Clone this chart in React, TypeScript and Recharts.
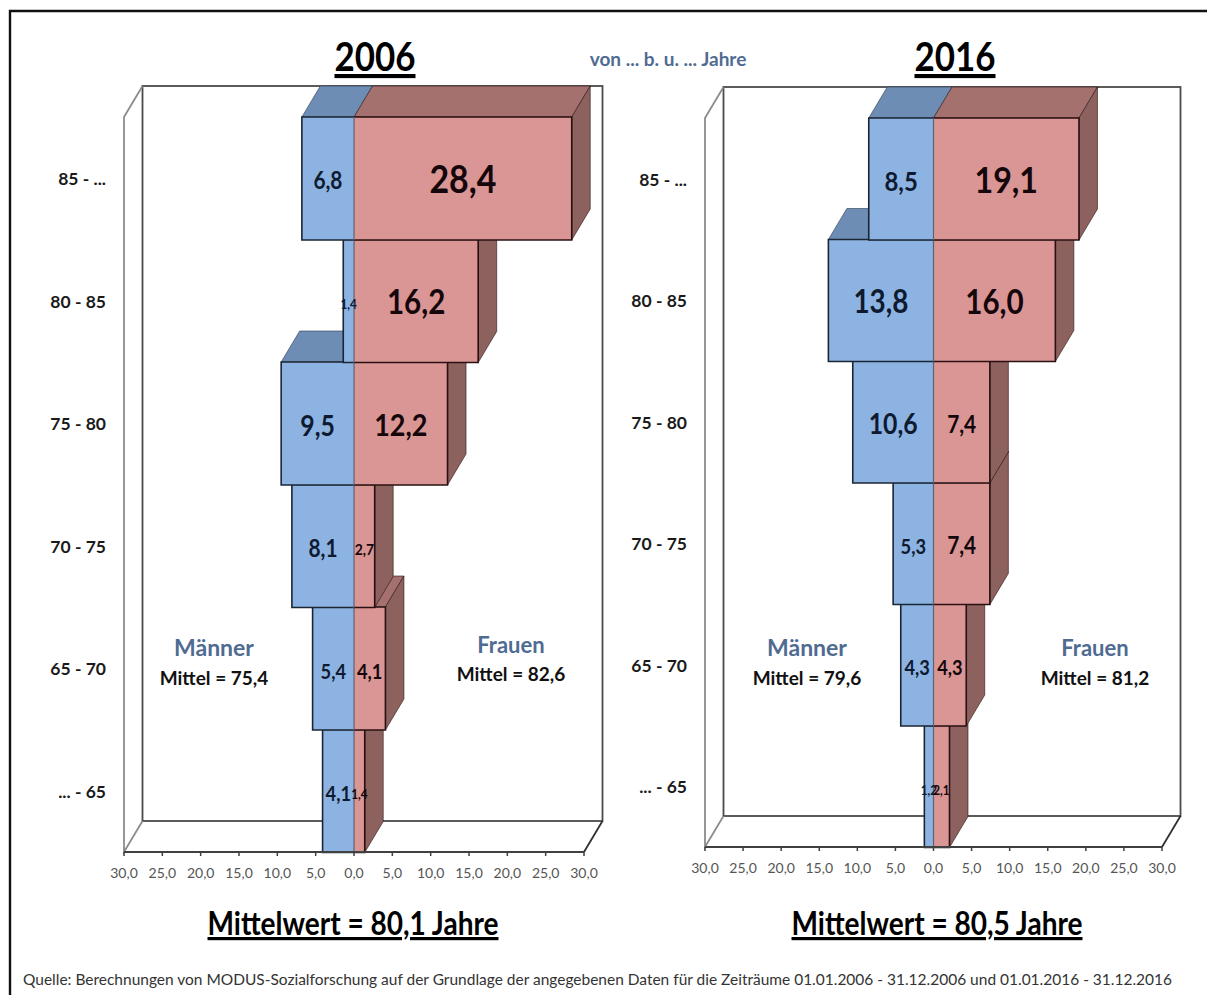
import { BarChart, Bar, XAxis, YAxis, ReferenceDot, usePlotArea } from "recharts";

const ageLabels = ["... - 65", "65 - 70", "70 - 75", "75 - 80", "80 - 85", "85 - ..."];
const men2006 = [4.1, 5.4, 8.1, 9.5, 1.4, 6.8];
const women2006 = [1.4, 4.1, 2.7, 12.2, 16.2, 28.4];
const men2016 = [1.2, 4.3, 5.3, 10.6, 13.8, 8.5];
const women2016 = [2.1, 4.3, 7.4, 7.4, 16.0, 19.1];
const xTicks = [-30, -25, -20, -15, -10, -5, 0, 5, 10, 15, 20, 25, 30];

const FONT = "Lato, sans-serif";
const DEPTH_X = 18.5;
const DEPTH_Y = 31;

const comma = (v: number) => Math.abs(v).toFixed(1).replace(".", ",");

const labelSize = (v: number) => {
  if (v >= 25) return 39;
  if (v >= 19) return 37;
  if (v >= 16) return 34;
  if (v >= 13) return 32;
  if (v >= 12) return 31;
  if (v >= 9) return 28.5;
  if (v >= 8.3) return 27.5;
  if (v >= 6) return 24;
  if (v >= 4) return 21;
  if (v >= 2.5) return 16;
  return 13.5;
};

function Frame() {
  const plot = usePlotArea();
  if (!plot) return null;
  const { x, y, width, height } = plot;
  const r = x + width;
  const b = y + height;
  return (
    <g fill="none">
      <rect x={x + DEPTH_X} y={y - DEPTH_Y} width={width} height={height} stroke="#4a4a4a" strokeWidth={1.8} fill="#fff" />
      <path d={`M${x + DEPTH_X} ${y - DEPTH_Y}L${x} ${y}V${b}L${x + DEPTH_X} ${b - DEPTH_Y}`} stroke="#8c8c8c" strokeWidth={1.8} />
      <path d={`M${r} ${b}L${r + DEPTH_X} ${b - DEPTH_Y}`} stroke="#303030" strokeWidth={1.8} />
    </g>
  );
}

function MenBar(props: any) {
  const { x, y, width, height } = props;
  const left = Math.min(x, x + width);
  const right = Math.max(x, x + width);
  const bottom = y + height;
  return (
    <g>
      <polygon
        points={`${left},${y} ${left + DEPTH_X},${y - DEPTH_Y} ${right + DEPTH_X},${y - DEPTH_Y} ${right},${y}`}
        fill="#6d8db4"
        stroke="#2a3a50"
        strokeWidth={0.6}
      />
      <rect x={left} y={y} width={right - left} height={height} fill="#8cb3e2" />
      <path d={`M${right} ${y}H${left}V${bottom}H${right}`} fill="none" stroke="#1b2635" strokeWidth={1.6} />
    </g>
  );
}

function WomenBar(props: any) {
  const { x, y, width, height } = props;
  const right = x + width;
  const bottom = y + height;
  return (
    <g>
      <polygon
        points={`${x},${y} ${x + DEPTH_X},${y - DEPTH_Y} ${right + DEPTH_X},${y - DEPTH_Y} ${right},${y}`}
        fill="#a4716e"
        stroke="#2a1414"
        strokeWidth={0.6}
      />
      <polygon
        points={`${right},${y} ${right + DEPTH_X},${y - DEPTH_Y} ${right + DEPTH_X},${bottom - DEPTH_Y} ${right},${bottom}`}
        fill="#8c615e"
        stroke="#2a1414"
        strokeWidth={0.6}
      />
      <rect x={x} y={y} width={width} height={height} fill="#d99694" />
      <path d={`M${x} ${y}H${right}V${bottom}H${x}`} fill="none" stroke="#2a1012" strokeWidth={1.6} />
      <path d={`M${x} ${y}V${bottom}`} fill="none" stroke="#5c6274" strokeWidth={1.2} />
    </g>
  );
}

function ValueLabel({ cx, cy, value }: any) {
  const v = Math.abs(value);
  return (
    <text
      transform={`translate(${cx} ${cy + 5}) scale(0.87 1)`}
      textAnchor="middle"
      dominantBaseline="middle"
      fontFamily={FONT}
      fontWeight={700}
      fontSize={labelSize(v)}
      fill={value < 0 ? "#0e1a30" : "#14060a"}
    >
      {comma(v)}
    </text>
  );
}

interface PanelProps {
  men: number[];
  women: number[];
  left: number;
  chartWidth: number;
  marginLeft: number;
  marginRight: number;
  marginTop: number;
  chartHeight: number;
}

function Panel({ men, women, left, chartWidth, marginLeft, marginRight, marginTop, chartHeight }: PanelProps) {
  const rows = ageLabels.map((label, i) => ({ label, men: -men[i], women: women[i] }));
  return (
    <div style={{ position: "absolute", left, top: 0 }}>
      <BarChart
        width={chartWidth}
        height={chartHeight}
        data={rows}
        layout="vertical"
        stackOffset="sign"
        barCategoryGap={0}
        margin={{ top: marginTop, right: marginRight, bottom: 18, left: marginLeft }}
      >
        <Frame />
        <XAxis
          type="number"
          domain={[-30, 30]}
          ticks={xTicks}
          interval={0}
          height={30}
          tickFormatter={comma}
          tick={{ fontSize: 14, fill: "#555", fontFamily: FONT }}
          tickSize={4}
          tickMargin={12}
          axisLine={{ stroke: "#404040", strokeWidth: 2 }}
          tickLine={{ stroke: "#404040", strokeWidth: 1.5 }}
        />
        <YAxis
          type="category"
          dataKey="label"
          reversed
          width={80}
          axisLine={false}
          tickLine={false}
          tickMargin={18}
          tickSize={0}
          tick={{ fontSize: 17.5, fill: "#1a1a1a", fontFamily: FONT, fontWeight: 700, dy: 1 }}
        />
        <Bar dataKey="men" stackId="age" shape={<MenBar />} isAnimationActive={false} />
        <Bar dataKey="women" stackId="age" shape={<WomenBar />} isAnimationActive={false} />
        {rows.map((row) => (
          <ReferenceDot key={`m${row.label}`} x={row.men / 2} y={row.label} r={0} shape={(p: any) => <ValueLabel {...p} value={row.men} />} />
        ))}
        {rows.map((row) => (
          <ReferenceDot key={`w${row.label}`} x={row.women / 2} y={row.label} r={0} shape={(p: any) => <ValueLabel {...p} value={row.women} />} />
        ))}
      </BarChart>
    </div>
  );
}

const notes = [
  { x: 214, y: 650, text: "Männer", size: 23, color: "#4f6b92" },
  { x: 214, y: 680, text: "Mittel = 75,4", size: 19, color: "#111" },
  { x: 511, y: 647, text: "Frauen", size: 22, color: "#4f6b92" },
  { x: 511, y: 676, text: "Mittel = 82,6", size: 19, color: "#111" },
  { x: 807, y: 650, text: "Männer", size: 23, color: "#4f6b92" },
  { x: 807, y: 680, text: "Mittel = 79,6", size: 19, color: "#111" },
  { x: 1095, y: 650, text: "Frauen", size: 22, color: "#4f6b92" },
  { x: 1095, y: 680, text: "Mittel = 81,2", size: 19, color: "#111" },
  { x: 668, y: 61, text: "von ... b. u. ... Jahre", size: 19, color: "#4f6b92" },
];

const SOURCE =
  "Quelle: Berechnungen von MODUS-Sozialforschung auf der Grundlage der angegebenen Daten für die Zeiträume 01.01.2006 - 31.12.2006 und 01.01.2016 - 31.12.2016";

export default function App() {
  return (
    <div style={{ position: "absolute", left: 0, top: 0, width: 1207, height: 995, overflow: "hidden", background: "#fff" }}>
      <Panel men={men2006} women={women2006} left={0} chartWidth={620} chartHeight={900} marginLeft={44} marginRight={36} marginTop={117} />
      <Panel men={men2016} women={women2016} left={600} chartWidth={600} chartHeight={895} marginLeft={25} marginRight={38} marginTop={118} />
      <svg width={1207} height={995} style={{ position: "absolute", left: 0, top: 0, pointerEvents: "none" }}>
        <path d="M10 995V11H1207" fill="none" stroke="#111" strokeWidth={2.4} />
        <text x={375} y={71} textAnchor="middle" textLength={81} lengthAdjust="spacingAndGlyphs" fontFamily={FONT} fontWeight={700} fontSize={41} textDecoration="underline" fill="#000">2006</text>
        <text x={955} y={71} textAnchor="middle" textLength={81} lengthAdjust="spacingAndGlyphs" fontFamily={FONT} fontWeight={700} fontSize={41} textDecoration="underline" fill="#000">2016</text>
        {notes.map((n) => (
          <text key={`${n.x}${n.text}`} x={n.x} y={n.y} textAnchor="middle" dominantBaseline="middle" fontFamily={FONT} fontWeight={700} fontSize={n.size} fill={n.color}>
            {n.text}
          </text>
        ))}
        <text x={353} y={935} textAnchor="middle" textLength={291} lengthAdjust="spacingAndGlyphs" fontFamily={FONT} fontWeight={700} fontSize={32} textDecoration="underline" fill="#000">Mittelwert = 80,1 Jahre</text>
        <text x={937} y={935} textAnchor="middle" textLength={291} lengthAdjust="spacingAndGlyphs" fontFamily={FONT} fontWeight={700} fontSize={32} textDecoration="underline" fill="#000">Mittelwert = 80,5 Jahre</text>
        <text x={23} y={985} textLength={1149} lengthAdjust="spacingAndGlyphs" fontFamily={FONT} fontSize={15.7} fill="#333">
          {SOURCE}
        </text>
      </svg>
    </div>
  );
}
